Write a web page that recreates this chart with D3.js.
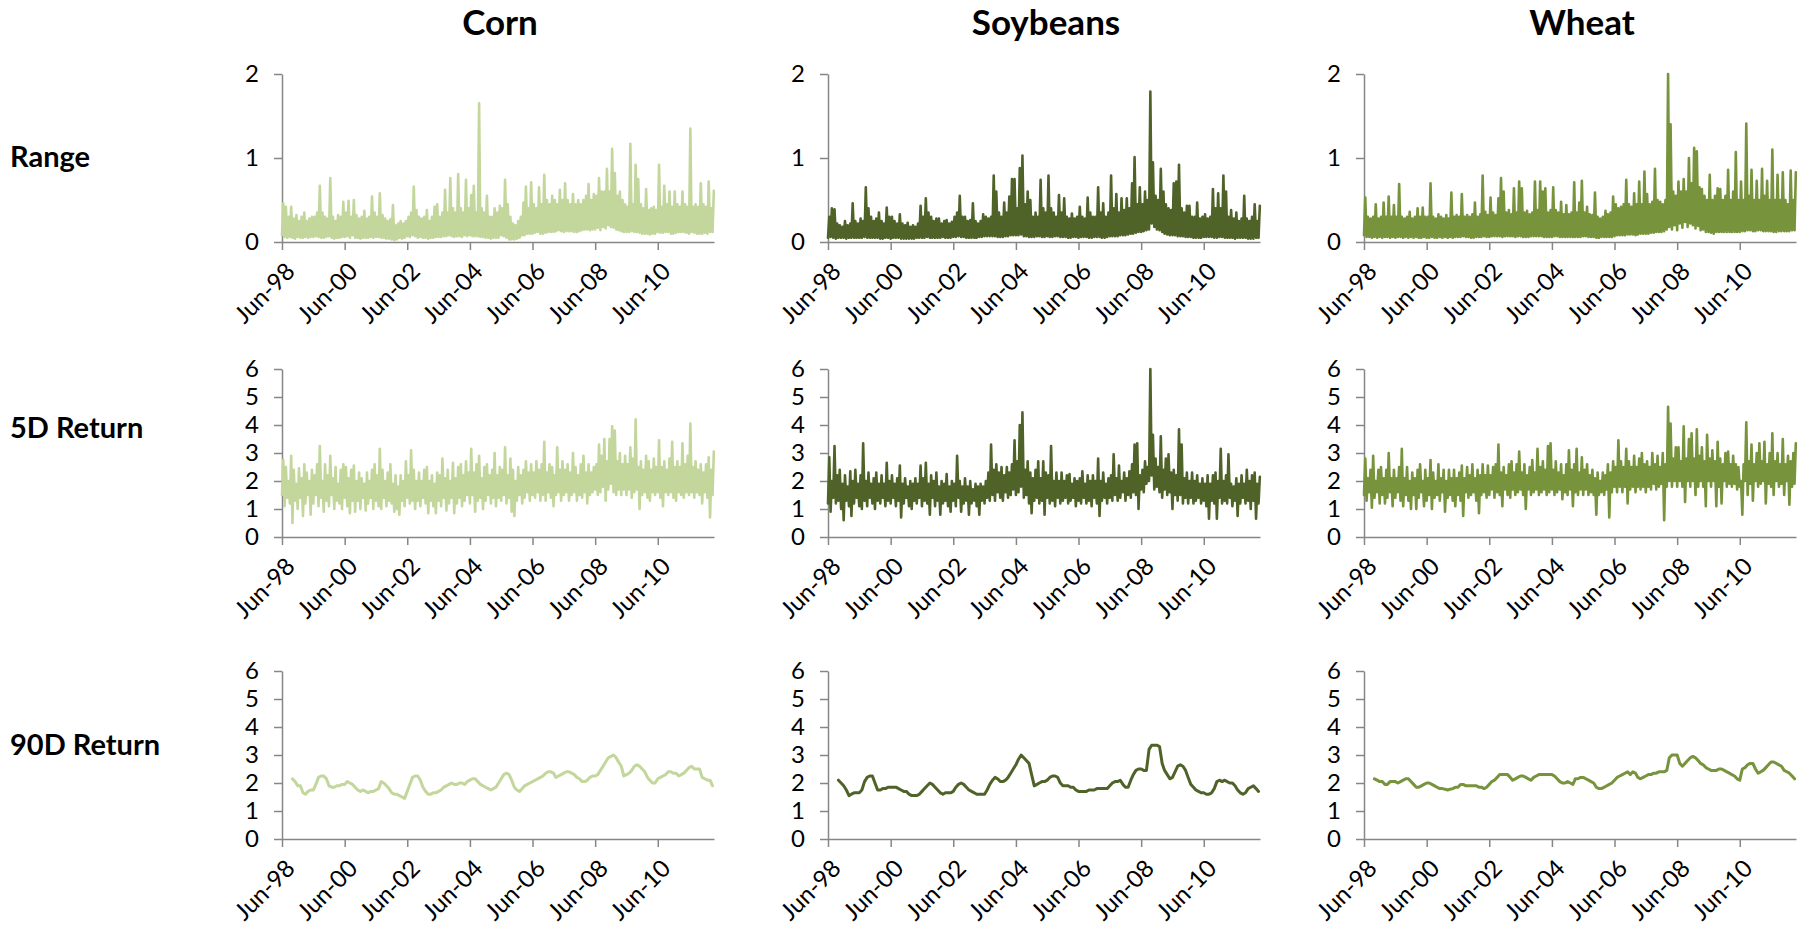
<!DOCTYPE html>
<html><head><meta charset="utf-8">
<script src="https://cdn.jsdelivr.net/npm/d3@7"></script>
<style>
html,body{margin:0;padding:0;background:#fff;}
svg{display:block;font-family:Lato,"Open Sans",sans-serif;}
</style></head><body>
<svg id="chart" width="1806" height="926"></svg>
<script>
// ---------- categories / labels ----------
const crops = ["Corn", "Soybeans", "Wheat"];
const measures = ["Range", "5D Return", "90D Return"];
const xTickDates = ["1998-06-01","2000-06-01","2002-06-01","2004-06-01","2006-06-01","2008-06-01","2010-06-01"];
const rangeTicks = [0, 1, 2];
const returnTicks = [0, 1, 2, 3, 4, 5, 6];
const seriesStart = "1998-06-01";
const axisEnd = "2012-03-18";
const ret90StartMonth = 4;   // 90D series start Oct-98

// ---------- Range & 5D: two readings per month (early, mid-month), Jun-98 .. Mar-12 ----------
const cornRange = [
0.08,0.46,0.06,0.42,0.05,0.30,0.06,0.42,0.05,0.28,0.04,0.32,0.06,0.25,0.05,0.30,0.05,0.35,0.06,0.25,0.05,0.28,0.06,0.30,
0.06,0.30,0.07,0.35,0.06,0.67,0.05,0.35,0.05,0.30,0.06,0.28,0.07,0.76,0.05,0.30,0.04,0.25,0.05,0.32,0.05,0.30,0.06,0.48,
0.06,0.35,0.07,0.49,0.05,0.30,0.08,0.50,0.05,0.32,0.05,0.28,0.04,0.30,0.05,0.37,0.05,0.28,0.05,0.30,0.06,0.54,0.05,0.35,
0.06,0.30,0.06,0.58,0.05,0.32,0.05,0.28,0.04,0.25,0.04,0.27,0.03,0.44,0.02,0.20,0.03,0.22,0.05,0.25,0.04,0.22,0.05,0.25,
0.07,0.30,0.06,0.35,0.08,0.66,0.07,0.38,0.05,0.30,0.06,0.28,0.05,0.30,0.05,0.38,0.04,0.25,0.05,0.30,0.05,0.42,0.06,0.45,
0.06,0.30,0.06,0.35,0.07,0.62,0.07,0.35,0.08,0.76,0.07,0.40,0.06,0.35,0.07,0.81,0.07,0.40,0.06,0.35,0.08,0.74,0.07,0.40,
0.08,0.56,0.07,0.67,0.07,0.35,0.07,1.65,0.06,0.40,0.06,0.35,0.05,0.55,0.05,0.30,0.04,0.30,0.05,0.40,0.05,0.35,0.05,0.43,
0.08,0.40,0.07,0.74,0.05,0.45,0.03,0.30,0.03,0.22,0.03,0.20,0.04,0.25,0.05,0.30,0.08,0.47,0.08,0.66,0.10,0.40,0.10,0.71,
0.10,0.45,0.11,0.40,0.12,0.65,0.10,0.45,0.10,0.80,0.11,0.50,0.12,0.45,0.12,0.55,0.12,0.50,0.13,0.45,0.14,0.62,0.13,0.50,
0.12,0.70,0.13,0.50,0.13,0.45,0.13,0.57,0.12,0.45,0.12,0.50,0.13,0.45,0.14,0.50,0.15,0.55,0.15,0.69,0.14,0.50,0.15,0.57,
0.15,0.55,0.17,0.76,0.14,0.60,0.18,0.60,0.16,0.87,0.20,0.60,0.18,1.11,0.17,0.82,0.15,0.55,0.14,0.60,0.13,0.50,0.12,0.45,
0.12,0.42,0.12,1.17,0.13,0.45,0.12,0.92,0.12,0.75,0.11,0.45,0.10,0.40,0.10,0.63,0.10,0.38,0.09,0.40,0.10,0.42,0.10,0.38,
0.12,0.92,0.11,0.42,0.11,0.67,0.12,0.45,0.12,0.60,0.10,0.42,0.10,0.60,0.11,0.45,0.12,0.42,0.12,0.60,0.12,0.45,0.11,0.42,
0.10,1.35,0.12,0.42,0.11,0.45,0.10,0.42,0.10,0.70,0.10,0.45,0.11,0.42,0.10,0.72,0.12,0.40,0.12,0.61];
const soyRange = [
0.05,0.30,0.06,0.40,0.05,0.39,0.04,0.22,0.05,0.20,0.05,0.18,0.05,0.25,0.04,0.20,0.05,0.22,0.05,0.46,0.05,0.25,0.05,0.22,
0.05,0.28,0.05,0.25,0.06,0.65,0.05,0.40,0.05,0.30,0.05,0.25,0.05,0.28,0.05,0.35,0.04,0.25,0.04,0.22,0.05,0.41,0.05,0.30,
0.04,0.30,0.05,0.25,0.05,0.22,0.05,0.33,0.04,0.22,0.04,0.20,0.04,0.23,0.04,0.18,0.04,0.20,0.04,0.18,0.05,0.22,0.05,0.43,
0.05,0.30,0.05,0.52,0.06,0.35,0.05,0.30,0.05,0.25,0.05,0.28,0.05,0.28,0.05,0.22,0.06,0.25,0.05,0.26,0.05,0.22,0.05,0.24,
0.06,0.30,0.06,0.35,0.07,0.55,0.06,0.30,0.06,0.30,0.05,0.25,0.05,0.26,0.05,0.46,0.05,0.25,0.05,0.22,0.06,0.25,0.06,0.33,
0.07,0.30,0.07,0.28,0.07,0.30,0.07,0.79,0.07,0.60,0.06,0.35,0.06,0.30,0.06,0.47,0.07,0.35,0.07,0.54,0.08,0.75,0.08,0.75,
0.08,0.40,0.08,0.88,0.09,1.03,0.07,0.45,0.07,0.60,0.06,0.50,0.06,0.30,0.06,0.35,0.07,0.30,0.07,0.74,0.06,0.40,0.06,0.35,
0.07,0.79,0.06,0.40,0.06,0.35,0.07,0.30,0.07,0.56,0.06,0.35,0.06,0.52,0.06,0.30,0.05,0.28,0.05,0.34,0.06,0.28,0.06,0.30,
0.05,0.42,0.06,0.30,0.06,0.28,0.06,0.53,0.05,0.35,0.05,0.30,0.06,0.30,0.06,0.65,0.06,0.35,0.05,0.46,0.05,0.30,0.06,0.35,
0.07,0.79,0.07,0.40,0.07,0.57,0.07,0.35,0.08,0.52,0.08,0.38,0.08,0.52,0.09,0.40,0.10,0.70,0.10,1.01,0.11,0.45,0.12,0.65,
0.12,0.45,0.13,0.60,0.14,0.50,0.15,1.79,0.22,0.95,0.18,0.55,0.15,0.50,0.14,0.87,0.12,0.60,0.10,0.45,0.09,0.40,0.08,0.38,
0.08,0.70,0.08,0.72,0.07,0.92,0.07,0.40,0.07,0.35,0.06,0.43,0.06,0.43,0.06,0.30,0.05,0.30,0.05,0.47,0.05,0.28,0.05,0.30,
0.06,0.33,0.06,0.28,0.06,0.30,0.06,0.63,0.05,0.40,0.05,0.58,0.06,0.40,0.06,0.79,0.05,0.60,0.05,0.30,0.05,0.38,0.05,0.28,
0.04,0.35,0.05,0.25,0.05,0.28,0.05,0.55,0.05,0.28,0.04,0.25,0.04,0.30,0.04,0.45,0.05,0.25,0.05,0.43];
const wheatRange = [
0.08,0.53,0.06,0.30,0.06,0.28,0.05,0.30,0.06,0.45,0.05,0.28,0.06,0.30,0.05,0.47,0.06,0.30,0.06,0.54,0.05,0.30,0.06,0.44,
0.05,0.30,0.06,0.69,0.06,0.30,0.05,0.28,0.06,0.30,0.05,0.36,0.06,0.28,0.05,0.30,0.06,0.40,0.05,0.30,0.05,0.41,0.06,0.30,
0.05,0.30,0.05,0.70,0.06,0.30,0.05,0.28,0.05,0.33,0.06,0.30,0.05,0.28,0.06,0.32,0.05,0.28,0.06,0.59,0.05,0.30,0.06,0.32,
0.06,0.30,0.06,0.57,0.07,0.30,0.06,0.32,0.06,0.30,0.05,0.33,0.05,0.47,0.06,0.30,0.06,0.33,0.06,0.79,0.07,0.36,0.06,0.32,
0.06,0.53,0.07,0.35,0.07,0.32,0.07,0.52,0.07,0.76,0.06,0.60,0.07,0.35,0.07,0.38,0.07,0.33,0.07,0.64,0.06,0.35,0.07,0.72,
0.07,0.64,0.06,0.35,0.06,0.37,0.06,0.33,0.07,0.35,0.07,0.72,0.07,0.38,0.07,0.72,0.07,0.60,0.06,0.64,0.06,0.35,0.06,0.38,
0.06,0.65,0.07,0.38,0.07,0.35,0.06,0.48,0.06,0.33,0.06,0.44,0.06,0.33,0.06,0.35,0.06,0.71,0.06,0.35,0.06,0.47,0.06,0.73,
0.07,0.35,0.07,0.42,0.06,0.33,0.06,0.32,0.06,0.59,0.05,0.30,0.05,0.28,0.06,0.30,0.06,0.37,0.06,0.33,0.06,0.35,0.06,0.54,
0.07,0.45,0.08,0.40,0.08,0.42,0.08,0.45,0.08,0.74,0.09,0.45,0.09,0.42,0.09,0.58,0.08,0.45,0.09,0.72,0.10,0.45,0.10,0.84,
0.10,0.57,0.10,0.45,0.11,0.48,0.11,0.87,0.12,0.50,0.12,0.48,0.12,0.45,0.13,0.50,0.15,2.00,0.18,1.40,0.15,0.60,0.20,0.55,
0.14,0.72,0.22,0.60,0.17,0.75,0.24,0.60,0.18,1.00,0.22,0.70,0.20,1.12,0.16,1.08,0.19,0.65,0.14,0.63,0.15,0.55,0.12,0.50,
0.12,0.80,0.11,0.50,0.10,0.55,0.12,0.64,0.12,0.63,0.12,0.50,0.12,0.55,0.12,0.86,0.12,0.50,0.12,0.60,0.12,1.07,0.12,0.50,
0.12,0.72,0.13,0.50,0.13,1.41,0.14,0.55,0.14,0.86,0.13,0.50,0.13,0.73,0.14,0.50,0.14,0.87,0.13,0.55,0.13,0.73,0.13,0.50,
0.13,1.10,0.12,0.50,0.12,0.80,0.13,0.50,0.13,0.83,0.13,0.50,0.13,0.45,0.13,0.85,0.14,0.50,0.14,0.83];
const corn5D = [
1.5,2.75,1.1,2.5,1.4,2.0,1.2,2.9,0.5,2.4,1.3,1.9,1.0,2.45,1.4,2.1,0.75,2.6,1.2,2.3,1.5,2.0,0.8,2.4,
1.2,2.2,1.5,2.6,1.1,3.25,1.4,2.0,0.9,2.6,1.3,2.2,1.1,2.9,1.5,2.1,1.0,2.5,1.3,1.9,1.2,2.4,1.0,2.6,
1.4,2.5,1.1,2.1,0.85,2.4,1.3,2.55,0.9,2.0,1.3,2.3,1.0,2.1,1.4,1.9,0.95,2.3,1.2,2.0,1.4,2.4,1.0,2.6,
1.3,2.2,1.1,3.15,1.0,2.4,1.4,2.0,1.1,2.3,1.3,2.6,1.2,1.9,0.9,2.2,1.0,1.8,0.8,2.2,1.3,2.0,1.1,2.7,
1.4,2.2,1.2,3.1,1.3,2.4,1.0,2.0,1.3,2.3,1.1,2.0,1.4,2.4,1.2,2.5,0.85,2.0,1.3,2.2,1.1,1.9,0.85,2.3,
1.3,2.2,1.1,2.8,1.4,2.1,0.95,2.4,1.2,2.0,1.4,2.65,0.85,2.1,1.2,2.5,1.4,2.6,1.1,2.2,1.3,2.7,1.5,2.3,
1.2,3.15,1.5,2.3,0.9,2.6,1.3,2.9,1.4,2.1,1.0,2.5,1.3,2.6,1.5,2.2,1.2,2.4,1.4,3.0,1.1,2.2,1.4,2.5,
1.3,2.4,1.5,3.2,1.2,2.2,1.4,2.8,0.9,2.4,0.75,2.0,1.3,2.5,1.5,2.2,1.2,2.4,1.4,2.7,1.6,2.3,1.3,2.6,
1.5,2.3,1.4,2.7,1.6,2.4,1.3,2.6,1.5,3.4,1.3,2.3,1.6,2.6,1.4,2.5,1.1,2.2,1.5,3.2,1.6,2.4,1.3,2.7,
1.5,2.4,1.6,2.6,1.3,2.3,1.5,3.0,1.6,2.5,1.3,2.2,1.5,2.6,1.4,2.9,1.6,2.3,1.2,2.6,1.5,2.3,1.6,2.5,
1.7,2.6,1.5,3.3,1.6,2.9,1.8,3.5,1.3,2.7,1.7,3.5,1.9,3.95,1.6,3.8,1.5,2.7,1.7,3.0,1.5,2.6,1.7,2.9,
1.5,2.6,1.7,3.2,1.4,2.8,1.6,4.2,1.7,2.5,1.0,2.7,1.5,2.4,1.6,2.9,1.4,2.7,1.3,2.4,1.6,2.8,1.5,2.5,
1.6,3.45,1.4,2.5,1.1,2.7,1.6,2.4,1.5,2.8,1.6,3.4,1.4,2.5,1.3,2.7,1.6,2.5,1.5,3.35,1.4,2.6,1.6,2.9,
1.5,4.05,1.6,2.5,1.4,2.7,1.6,2.4,1.5,2.6,1.2,2.3,1.6,2.6,1.4,2.85,0.7,2.4,1.5,3.05];
const soy5D = [
1.2,2.85,0.9,2.0,1.4,3.25,1.2,2.2,1.3,2.4,1.0,1.9,0.6,2.2,1.3,1.8,1.1,2.35,0.75,2.0,1.2,2.4,1.4,1.9,
1.1,2.2,1.0,3.35,1.3,2.0,1.1,2.3,1.4,1.9,1.2,2.1,1.0,2.3,1.3,1.9,1.2,2.2,1.4,1.9,1.1,2.65,1.3,2.0,
1.2,2.2,1.4,1.9,1.1,2.1,1.3,2.55,0.7,1.9,1.2,2.1,1.4,1.8,1.1,2.0,1.0,1.9,1.3,2.1,1.2,1.9,1.4,2.55,
1.1,2.1,1.3,2.65,1.2,1.9,0.8,2.2,1.4,2.0,1.1,2.3,1.3,1.8,0.8,2.0,1.2,1.9,1.3,2.25,1.1,1.8,0.9,2.0,
1.3,1.9,1.1,2.9,1.4,2.0,0.9,1.8,1.2,2.1,1.3,1.8,0.8,2.0,1.2,1.7,1.3,1.9,1.1,1.8,0.8,1.9,1.3,1.8,
1.2,2.0,1.4,2.3,1.3,3.3,1.5,2.4,1.3,2.6,1.6,2.3,1.4,2.5,1.3,2.2,1.6,2.5,1.4,2.3,1.5,2.6,1.7,3.45,
1.5,2.7,1.6,4.0,1.8,4.45,1.4,2.4,1.5,2.7,1.2,2.3,0.85,2.1,1.3,2.4,1.4,2.7,1.2,2.1,1.3,2.7,0.8,2.3,
1.4,2.2,1.2,3.25,1.3,2.0,1.1,2.3,1.4,2.0,1.2,2.3,1.3,2.0,1.4,2.2,1.2,2.25,1.3,1.9,1.4,2.1,1.1,2.0,
1.3,2.1,1.2,2.35,1.4,1.9,1.2,2.2,1.3,2.0,1.1,2.2,1.4,2.0,1.2,2.8,0.75,2.0,1.3,2.3,1.4,1.9,1.2,2.1,
1.4,2.2,1.3,2.95,1.5,2.1,1.3,2.55,1.4,2.0,1.6,2.3,1.3,2.1,1.5,2.35,1.4,2.6,1.6,3.3,1.5,3.35,1.0,2.2,
1.7,2.4,1.6,2.7,1.9,2.5,2.0,6.0,2.2,3.65,1.7,2.8,1.8,2.5,1.6,3.6,1.4,2.4,1.7,2.8,1.5,2.95,1.6,2.3,
1.0,2.4,1.5,2.2,1.3,3.85,1.5,3.3,1.2,2.1,1.4,2.3,1.2,2.0,1.4,2.3,1.2,2.0,1.3,2.2,1.4,1.9,1.2,2.1,
1.3,1.9,1.1,2.2,0.65,1.9,1.3,2.2,1.2,2.3,0.65,2.0,1.4,3.15,1.2,2.0,1.3,2.2,1.2,2.95,1.4,1.9,1.1,1.8,
1.3,2.1,0.75,1.9,1.2,2.2,1.4,1.9,1.2,2.4,1.3,2.0,1.0,2.2,1.3,2.3,0.65,1.9,1.2,2.15];
const wheat5D = [
1.5,2.8,1.3,2.1,1.6,2.4,1.05,2.9,1.4,2.0,1.6,2.4,1.2,2.5,1.5,2.1,1.2,2.4,1.4,3.0,1.6,2.1,1.1,2.4,
1.4,2.1,1.6,2.5,1.3,3.15,1.1,2.1,1.5,2.5,1.3,2.0,1.0,2.3,1.5,2.1,1.0,2.4,1.4,2.6,1.6,2.0,1.1,2.4,
1.3,2.1,1.5,2.75,1.0,2.3,1.4,2.0,1.5,2.6,1.3,2.1,1.6,2.4,0.9,2.0,1.4,2.4,1.5,2.1,1.3,2.4,1.1,2.1,
1.5,2.3,1.3,2.55,0.75,2.1,1.6,2.5,1.4,2.2,1.5,2.6,1.6,2.1,1.3,2.4,0.85,2.2,1.5,2.6,1.6,2.2,1.4,2.55,
1.5,2.2,1.7,2.5,1.4,2.6,1.6,3.3,1.5,2.3,1.1,2.5,1.7,2.2,1.5,2.6,1.4,2.7,1.7,2.3,1.5,2.6,1.6,3.05,
1.7,2.3,1.5,2.6,1.0,2.2,1.7,2.5,1.5,2.75,1.6,2.3,1.7,3.15,1.5,2.5,1.6,2.7,1.7,2.4,1.5,3.25,1.6,3.35,
1.7,2.4,1.5,2.7,1.6,2.3,1.7,2.6,1.35,2.2,1.6,2.6,1.5,3.1,1.7,2.4,1.1,2.6,1.6,3.15,1.5,2.3,1.7,2.85,
1.5,2.4,1.7,2.6,1.5,2.2,1.6,2.4,1.5,2.1,0.8,2.3,1.5,2.0,1.6,2.3,1.5,2.2,1.7,2.6,0.7,2.3,1.6,2.7,
1.8,2.5,1.6,3.45,1.8,2.7,1.6,2.5,1.8,3.15,1.2,2.7,1.7,2.5,1.8,2.9,1.6,2.5,1.8,2.8,1.7,3.0,1.8,2.6,
1.6,2.7,1.8,2.5,1.7,3.0,1.9,2.6,1.7,2.9,1.8,2.5,1.9,3.0,0.6,2.6,1.8,4.65,2.0,4.05,1.8,2.8,2.0,3.2,
1.8,3.2,2.0,2.7,1.8,3.95,1.25,2.8,2.0,3.5,1.8,3.7,2.0,2.8,1.5,3.85,1.8,2.9,2.0,3.2,1.8,2.7,1.1,3.65,
2.0,2.8,1.8,3.1,2.0,2.7,1.1,3.4,1.8,2.8,1.2,2.6,2.0,3.0,1.8,3.05,1.9,2.6,1.8,2.9,1.9,2.6,1.7,2.5,
1.8,2.0,0.8,2.6,2.0,4.1,1.5,2.7,1.9,3.3,1.3,2.6,2.0,3.0,1.8,3.35,1.9,2.7,2.0,3.4,1.2,2.6,1.9,3.0,
1.8,3.7,1.5,2.7,2.0,3.0,1.8,2.6,1.9,3.5,1.5,2.6,2.0,2.9,1.15,2.7,1.8,3.0,1.9,3.35];

// ---------- 90D: one reading per month, Oct-98 .. Mar-12 ----------
const corn90D = [
2.15,2.05,1.9,1.9,1.65,1.6,1.7,1.75,
1.75,1.95,2.2,2.25,2.25,2.15,1.9,1.85,1.85,1.9,1.9,1.95,
1.95,2.05,2.0,1.95,1.85,1.75,1.7,1.75,1.7,1.65,1.7,1.7,
1.75,1.8,2.05,2.0,1.9,1.8,1.65,1.6,1.6,1.55,1.5,1.45,
1.7,1.95,2.2,2.25,2.25,2.1,1.85,1.7,1.6,1.6,1.65,1.65,
1.7,1.75,1.85,1.9,1.95,2.0,1.95,1.95,2.0,2.0,1.95,2.05,
2.1,2.15,2.15,2.05,1.95,1.9,1.85,1.8,1.75,1.8,1.85,2.0,
2.15,2.3,2.35,2.3,2.1,1.85,1.75,1.7,1.8,1.9,1.95,2.0,
2.05,2.1,2.15,2.2,2.25,2.35,2.4,2.4,2.35,2.2,2.25,2.3,
2.35,2.4,2.4,2.35,2.3,2.2,2.15,2.05,2.05,2.1,2.2,2.25,
2.25,2.3,2.45,2.6,2.75,2.9,2.95,3.0,2.9,2.75,2.6,2.25,
2.3,2.35,2.45,2.6,2.65,2.6,2.5,2.4,2.2,2.1,2.0,2.0,
2.15,2.2,2.25,2.3,2.4,2.4,2.35,2.35,2.25,2.3,2.35,2.45,
2.55,2.6,2.5,2.5,2.5,2.2,2.15,2.1,2.1,1.9];
const soy90D = [
2.1,2.0,1.9,1.75,1.55,1.6,1.65,1.65,
1.65,1.75,2.05,2.2,2.25,2.25,2.0,1.75,1.75,1.8,1.8,1.85,
1.85,1.85,1.85,1.8,1.75,1.7,1.7,1.6,1.55,1.55,1.55,1.6,
1.7,1.8,1.9,2.0,1.95,1.85,1.75,1.65,1.6,1.65,1.65,1.65,
1.7,1.85,1.95,2.0,1.95,1.85,1.75,1.7,1.65,1.6,1.6,1.6,
1.6,1.75,1.95,2.1,2.2,2.15,2.05,2.05,2.1,2.2,2.35,2.5,
2.65,2.85,3.0,2.9,2.8,2.7,2.3,1.9,1.95,2.0,2.05,2.05,
2.1,2.2,2.25,2.25,2.2,2.0,1.9,1.9,1.9,1.85,1.85,1.75,
1.7,1.7,1.7,1.7,1.75,1.75,1.75,1.8,1.8,1.8,1.8,1.8,
1.9,2.0,2.05,2.05,2.1,1.95,1.85,1.85,2.1,2.3,2.45,2.5,
2.5,2.45,2.45,3.2,3.35,3.35,3.35,3.3,2.7,2.45,2.3,2.15,
2.2,2.4,2.6,2.65,2.6,2.45,2.2,1.95,1.85,1.75,1.7,1.65,
1.65,1.6,1.6,1.65,1.8,2.05,2.1,2.05,2.1,2.05,2.0,2.0,
1.9,1.75,1.65,1.6,1.65,1.8,1.85,1.9,1.8,1.7];
const wheat90D = [
2.15,2.1,2.05,2.05,1.95,1.95,2.05,2.05,
2.05,2.0,2.05,2.1,2.15,2.15,2.05,1.95,1.85,1.85,1.9,1.95,
2.0,2.0,1.95,1.9,1.85,1.8,1.8,1.78,1.75,1.78,1.8,1.85,
1.85,1.95,1.95,1.9,1.9,1.9,1.9,1.9,1.85,1.85,1.8,1.85,
1.95,2.05,2.1,2.2,2.3,2.3,2.3,2.3,2.2,2.1,2.15,2.2,
2.25,2.25,2.2,2.15,2.1,2.2,2.25,2.3,2.3,2.3,2.3,2.3,
2.3,2.25,2.15,2.05,2.0,2.0,2.05,2.0,1.95,2.15,2.15,2.2,
2.2,2.15,2.1,2.05,2.0,1.85,1.8,1.8,1.85,1.9,1.95,2.0,
2.1,2.2,2.25,2.3,2.35,2.4,2.3,2.4,2.35,2.2,2.15,2.2,
2.25,2.3,2.3,2.35,2.35,2.4,2.4,2.4,2.45,2.9,3.0,3.0,
3.0,2.7,2.6,2.7,2.8,2.9,2.95,2.9,2.8,2.7,2.65,2.55,
2.5,2.45,2.45,2.45,2.5,2.5,2.45,2.4,2.35,2.3,2.25,2.15,
2.1,2.5,2.55,2.65,2.7,2.7,2.5,2.35,2.4,2.45,2.55,2.65,
2.75,2.75,2.7,2.65,2.6,2.45,2.4,2.35,2.25,2.15];

// ---------- styles / layout ----------
const cropColors = ["#C3D69B", "#4F6228", "#77933C"];
const axisColor = "#868686";
const colX = [282, 828, 1364];
const rowY = [74, 369, 671];
const plotW = 432, plotH = 168;
const rowLabelBaseline = [167, 438, 755];
const tickFont = 24;

const grid = [
  [cornRange, soyRange, wheatRange],
  [corn5D, soy5D, wheat5D],
  [corn90D, soy90D, wheat90D]
];

const parse = d3.timeParse("%Y-%m-%d");
const t0 = parse(seriesStart);
const svg = d3.select("#chart");

crops.forEach((c, i) => {
  svg.append("text")
    .attr("x", colX[i] + plotW / 2 + 2).attr("y", 35)
    .attr("text-anchor", "middle")
    .attr("font-size", 35).attr("font-weight", 700)
    .attr("fill", "#000").text(c);
});
measures.forEach((m, r) => {
  svg.append("text")
    .attr("x", 10).attr("y", rowLabelBaseline[r])
    .attr("font-size", 29).attr("font-weight", 700)
    .attr("fill", "#000").text(m);
});

const x = d3.scaleTime().domain([t0, parse(axisEnd)]).range([0, plotW]);
const fmt = d3.timeFormat("%b-%y");

const semiMonthDate = j => d3.timeDay.offset(d3.timeMonth.offset(t0, Math.floor(j / 2)), (j % 2) * 15);
const monthDate = (j, off) => d3.timeMonth.offset(t0, j + off);

grid.forEach((row, r) => {
  const y = d3.scaleLinear().domain(r === 0 ? [0, 2] : [0, 6]).range([plotH, 0]);
  const ticks = r === 0 ? rangeTicks : returnTicks;
  row.forEach((vals, c) => {
    const g = svg.append("g").attr("transform", `translate(${colX[c]},${rowY[r]})`);
    const ya = g.append("g").call(d3.axisLeft(y).tickValues(ticks).tickSize(8).tickSizeOuter(0).tickPadding(15).tickFormat(d3.format("d")));
    const xa = g.append("g").attr("transform", `translate(0,${plotH})`)
      .call(d3.axisBottom(x).tickValues(xTickDates.map(parse)).tickSize(8).tickSizeOuter(0).tickFormat(fmt));
    [ya, xa].forEach(a => {
      a.select(".domain").attr("stroke", axisColor).attr("stroke-width", 1.5);
      a.selectAll(".tick line").attr("stroke", axisColor).attr("stroke-width", 1.5);
      a.selectAll("text").attr("fill", "#000").attr("font-size", tickFont).attr("font-family", "Lato, 'Open Sans', sans-serif");
    });
    xa.selectAll(".tick text")
      .attr("x", 0).attr("y", 0).attr("dy", "0.35em")
      .attr("text-anchor", "end")
      .attr("transform", "translate(8,25) rotate(-45)");
    const data = vals.map((v, j) => ({ date: r === 2 ? monthDate(j, ret90StartMonth) : semiMonthDate(j), v }));
    const line = d3.line().x(d => x(d.date)).y(d => y(d.v));
    g.append("path").datum(data)
      .attr("d", line)
      .attr("fill", "none")
      .attr("stroke", cropColors[c])
      .attr("stroke-width", r === 2 ? 3 : 2.6)
      .attr("stroke-linejoin", "round")
      .attr("stroke-linecap", "round");
  });
});
</script>
</body></html>
